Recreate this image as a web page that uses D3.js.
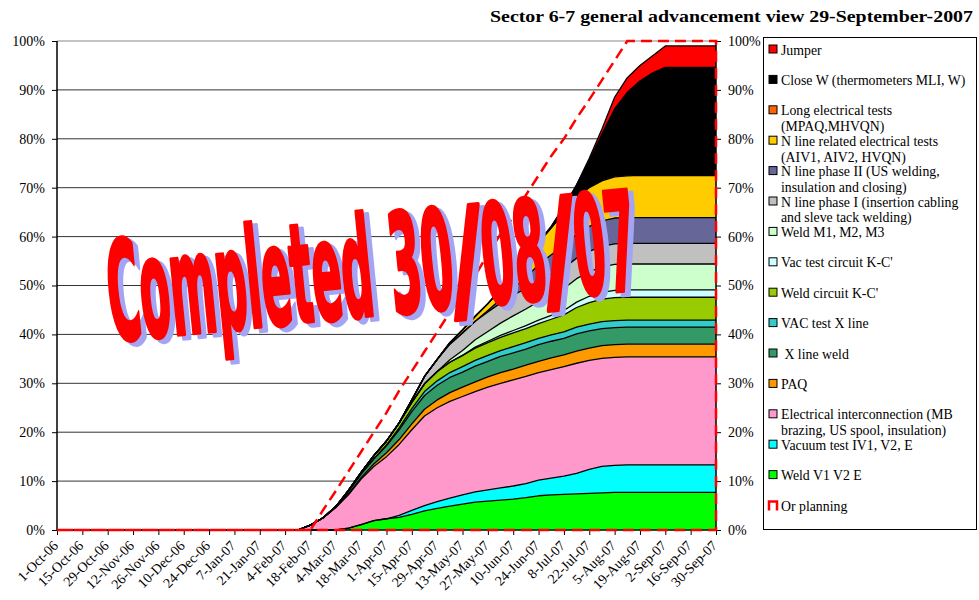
<!DOCTYPE html>
<meta charset="utf-8">
<script src="https://d3js.org/d3.v7.min.js"></script>
<style>
body { margin: 0; background: #fff; }
text { font-family: "Liberation Serif", "Times New Roman", serif; fill: #000; }
.axis text { font-size: 14px; }
.axis path, .axis line { stroke: #000; }
.legend text { font-size: 13.8px; }
</style>
<body>
<script>
// weekly progress points (percent of sector work done), first one is the chart start
var dates = ["2006-10-01",
  "2007-02-11","2007-02-18","2007-02-25","2007-03-04","2007-03-11","2007-03-18","2007-03-25",
  "2007-04-01","2007-04-08","2007-04-15","2007-04-22","2007-04-29","2007-05-06","2007-05-13",
  "2007-05-20","2007-05-27","2007-06-03","2007-06-10","2007-06-17","2007-06-24","2007-07-01",
  "2007-07-08","2007-07-15","2007-07-22","2007-07-29","2007-08-05","2007-08-12","2007-08-19",
  "2007-08-26","2007-09-02","2007-09-09","2007-09-16","2007-09-23","2007-09-30"];

var weldV1V2E = [0, 0,0,0,0, 0.4,1.1,1.9,2.3,2.6,3.2, 3.9,4.4,4.9,5.3,5.7,5.9, 6.1,6.3,6.6,7.0,7.2,7.3, 7.4,7.5,7.6, 7.7,7.7,7.7,7.7,7.7,7.7,7.7,7.7,7.7];
var vacuumTest = [0, 0,0,0,0,0,0,0,0, 0.4,0.8,1.1,1.4,1.6,1.9,2.1,2.3,2.5,2.7,2.9,3.2,3.4,3.7,4.2,4.9,5.4,5.5, 5.6,5.6,5.6,5.6,5.6,5.6,5.6,5.6];
var elecInterconnection = [0, 0,1.0,2.5,4.6,6.8,9.3,11.1,12.7,14.5,16.5,18.3,19.2,19.8,20.1,20.5,21.0,21.4,21.7,21.9,22.0,22.2,22.4,22.5,22.3,22.1,22.1, 22.1,22.1,22.1,22.1,22.1,22.1,22.1,22.1];
var paq = [0, 0,0,0,0, 0.2,0.3,0.5,0.8,1.0,1.2,1.4,1.6,1.8,1.9,2.0,2.1,2.2,2.2,2.3,2.3,2.4,2.4,2.5,2.5, 2.6,2.6,2.6,2.6,2.6,2.6,2.6,2.6,2.6,2.6];
var xLineWeld = [0, 0,0,0, 0.2,0.5,0.8,1.0,1.4,2.0,2.5,2.8,3.0,3.1,3.1,3.2,3.2,3.3,3.3,3.3,3.4,3.4,3.4, 3.5,3.5,3.5,3.5,3.5,3.5,3.5,3.5,3.5,3.5,3.5,3.5];
var vacTestX = [0, 0,0,0,0,0,0, 0.1,0.2,0.4,0.6,0.8,0.9,1.0,1.1,1.2,1.2,1.2,1.3,1.3,1.3,1.3,1.3, 1.4,1.4,1.4,1.4,1.4,1.4,1.4,1.4,1.4,1.4,1.4,1.4];
var weldKC = [0, 0,0,0,0, 0.2,0.3,0.6,0.8,1.0,1.3,1.6,1.9,2.1,2.3,2.5,2.6,2.7,2.8,2.9,3.0,3.2,3.5,4.0,4.4,4.6, 4.7,4.7,4.7,4.7,4.7,4.7,4.7,4.7,4.7];
var vacTestKC = [0, 0,0,0,0,0,0,0,0,0,0,0,0,0,0, 0.2,0.3,0.4,0.5,0.6,0.7,0.8,0.9,1.1,1.3,1.4, 1.5,1.5,1.5,1.5,1.5,1.5,1.5,1.5,1.5];
var weldM = [0, 0,0,0,0,0,0,0,0,0,0,0,0, 0.5,1.0,1.5,2.0,2.5,3.0,3.4,3.8,4.2,4.5,4.8,5.0,5.2, 5.3,5.3,5.3,5.3,5.3,5.3,5.3,5.3,5.3];
var nLinePhase1 = [0, 0,0,0,0,0,0,0,0,0, 0.5,1.5,2.5,3.2,3.6,3.8,4.0,4.1, 4.2,4.2,4.2,4.2,4.2,4.2,4.2,4.2,4.2,4.2,4.2,4.2,4.2,4.2,4.2,4.2,4.2];
var nLinePhase2 = [0, 0,0,0,0,0,0,0,0,0,0,0,0,0,0,0, 0.3,0.8,1.5,2.2,3.4,4.0,4.6,4.9,5.1,5.2, 5.3,5.3,5.3,5.3,5.3,5.3,5.3,5.3,5.3];
var nLineElec = [0, 0,0,0,0,0,0,0,0,0,0,0,0, 0.3,0.6,1.0,1.4,2.0,2.6,3.2,4.5,5.5,6.6,7.4,7.9,8.2,8.4,8.5, 8.6,8.6,8.6,8.6,8.6,8.6,8.6];
var longElec = [0, 0,0,0,0,0,0,0,0,0,0,0,0,0,0,0,0,0,0,0,0,0, 0.1, 0.2,0.2,0.2,0.2,0.2,0.2,0.2,0.2,0.2,0.2,0.2,0.2];
var closeW = [0, 0,0,0,0,0,0,0,0,0,0,0,0,0,0,0,0,0,0,0,0, 0.3,1.2,2.5,5.3,9.4,13.7,16.9,19.1,20.8,21.9, 21.9,21.9,21.9,21.9];
var jumper = [0, 0,0,0,0,0,0,0,0,0,0,0,0,0,0,0,0,0,0,0,0,0,0,0, 0.5,1.0,2.4,3.0,3.2,3.5,4.4, 4.4,4.4,4.4,4.4];
var planning = [0, 0,0, 4.1,8,12,16,20,24,28.5,32.5,36.5,40.5,44.5,48.2,52,56.5,60.5,64,68.5,72.5,76.5,80,84.2,88,92,96, 100,100,100,100,100,100,100,100];

// stack order bottom -> top
var seriesData = [weldV1V2E, vacuumTest, elecInterconnection, paq, xLineWeld, vacTestX, weldKC, vacTestKC,
  weldM, nLinePhase1, nLinePhase2, nLineElec, longElec, closeW, jumper];
var colors = ["#00ff00","#00ffff","#ff99cc","#ff9900","#339966","#33cccc","#99cc00","#ccffff",
  "#ccffcc","#c0c0c0","#666699","#ffcc00","#ff6600","#000000","#ff0000"];
// legend text split into lines as in the chart
var legendLines = [
  ["Weld V1 V2 E"], ["Vacuum test IV1, V2, E"], ["Electrical interconnection (MB", "brazing, US spool, insulation)"],
  ["PAQ"], ["\u00a0X line weld"], ["VAC test X line"], ["Weld circuit K-C'"], ["Vac test circuit K-C'"], ["Weld M1, M2, M3"],
  ["N line phase I (insertion cabling", "and sleve tack welding)"], ["N line phase II (US welding,", "insulation and closing)"],
  ["N line related electrical tests", "(AIV1, AIV2, HVQN)"], ["Long electrical tests", "(MPAQ,MHVQN)"],
  ["Close W (thermometers MLI, W)"], ["Jumper"]];

var width = 979, height = 600;
var plotLeft = 57, plotRight = 716, plotTop = 41, plotBottom = 530;

var svg = d3.select("body").append("svg")
    .attr("width", width)
    .attr("height", height);

var parse = d3.timeParse("%Y-%m-%d");
var rows = dates.map(function(d, i) {
    var r = {date: parse(d)};
    seriesData.forEach(function(s, j) { r["s" + j] = s[i]; });
    r.plan = planning[i];
    return r;
});
var keys = seriesData.map(function(s, j) { return "s" + j; });

var x = d3.scaleTime()
    .domain([parse("2006-10-01"), parse("2007-09-30")])
    .range([plotLeft, plotRight]);
var y = d3.scaleLinear().domain([0, 100]).range([plotBottom, plotTop]);

// title
svg.append("text")
    .text("Sector 6-7 general advancement view 29-September-2007")
    .attr("x", 973)
    .attr("y", 22)
    .attr("text-anchor", "end")
    .attr("textLength", 483)
    .attr("lengthAdjust", "spacingAndGlyphs")
    .style("font-size", "17px")
    .style("font-weight", "bold");

// gridlines
svg.append("g").selectAll("line")
    .data(d3.range(10, 101, 10))
    .enter().append("line")
    .attr("x1", plotLeft).attr("x2", plotRight)
    .attr("y1", function(d) { return y(d); })
    .attr("y2", function(d) { return y(d); })
    .style("stroke", function(d) { return d == 100 ? "#888" : "#333"; })
    .style("stroke-width", 1);

// stacked areas
var layers = d3.stack().keys(keys)(rows);
var area = d3.area()
    .x(function(d) { return x(d.data.date); })
    .y0(function(d) { return y(d[0]); })
    .y1(function(d) { return y(d[1]); });
var topLine = d3.line()
    .x(function(d) { return x(d.data.date); })
    .y(function(d) { return y(d[1]); });

svg.append("g").selectAll("path")
    .data(layers)
    .enter().append("path")
    .attr("d", area)
    .style("fill", function(d, i) { return colors[i]; });

svg.append("g").selectAll("path")
    .data(layers)
    .enter().append("path")
    .attr("d", topLine)
    .style("fill", "none")
    .style("stroke", "#000")
    .style("stroke-width", 1.3)
    .style("stroke-linejoin", "round");

// axes
var yTicks = d3.range(0, 101, 10);
svg.append("g")
    .attr("class", "axis")
    .attr("transform", "translate(" + plotLeft + ",0)")
    .call(d3.axisLeft(y).tickValues(yTicks).tickSize(5).tickPadding(7)
        .tickFormat(function(d) { return d + "%"; }))
    .call(function(g) { g.select(".domain").remove(); });
svg.append("g")
    .attr("class", "axis")
    .attr("transform", "translate(" + plotRight + ",0)")
    .call(d3.axisRight(y).tickValues(yTicks).tickSize(5).tickPadding(7)
        .tickFormat(function(d) { return d + "%"; }))
    .call(function(g) { g.select(".domain").remove(); });

var xTicks = d3.timeDay.range(parse("2006-10-01"), parse("2007-10-01"), 14);
svg.append("g")
    .attr("class", "axis")
    .attr("transform", "translate(0," + plotBottom + ")")
    .call(d3.axisBottom(x).tickValues(xTicks).tickSize(5)
        .tickFormat(d3.timeFormat("%-d-%b-%y")))
    .call(function(g) { g.select(".domain").remove(); })
    .selectAll("text")
    .attr("x", 0).attr("y", 0).attr("dy", "0.35em")
    .attr("transform", "translate(-2,13) rotate(-45)")
    .style("text-anchor", "end");

svg.append("line").attr("x1", plotLeft).attr("x2", plotLeft).attr("y1", plotTop).attr("y2", plotBottom)
    .style("stroke", "#000").style("stroke-width", 1.5);
svg.append("line").attr("x1", plotRight).attr("x2", plotRight).attr("y1", plotTop).attr("y2", plotBottom)
    .style("stroke", "#000").style("stroke-width", 1.5);
svg.append("line").attr("x1", plotLeft).attr("x2", plotRight).attr("y1", plotBottom).attr("y2", plotBottom)
    .style("stroke", "#000").style("stroke-width", 1.5);

// planning outline (dashed)
var planArea = d3.area()
    .x(function(d) { return x(d.date); })
    .y0(y(0))
    .y1(function(d) { return y(d.plan); });
svg.append("path")
    .attr("d", planArea(rows))
    .style("fill", "none")
    .style("stroke", "#ff0000")
    .style("stroke-width", 2.5)
    .style("stroke-dasharray", "11,6");

// big note, set piece by piece so the slashes keep their slant
var notePieces = [
    {t: "Completed", x: 0, w: 266},
    {t: "30", x: 283, w: 64},
    {t: "/", x: 344, w: 34},
    {t: "08", x: 376, w: 64},
    {t: "/", x: 437, w: 34},
    {t: "07", x: 469, w: 62}
];
var note = svg.append("g")
    .attr("transform", "translate(112,341) rotate(-5.6)");
[{dx: 5, dy: 4, c: "#a4a4f4", sw: 5}, {dx: 0, dy: 0, c: "#ff0000", sw: 4}].forEach(function(layer) {
    note.append("g").selectAll("text")
        .data(notePieces)
        .enter().append("text")
        .text(function(d) { return d.t; })
        .attr("x", function(d) { return d.x + layer.dx; })
        .attr("y", layer.dy)
        .attr("textLength", function(d) { return d.w; })
        .attr("lengthAdjust", "spacingAndGlyphs")
        .style("font-family", "'Liberation Sans Narrow', 'DejaVu Sans Condensed', sans-serif")
        .style("font-weight", "bold")
        .style("font-size", "138px")
        .style("fill", layer.c)
        .style("stroke", layer.c)
        .style("stroke-width", layer.sw)
        .style("stroke-linejoin", "round");
});

// legend
var legend = svg.append("g").attr("class", "legend");
legend.append("rect")
    .attr("x", 763.5).attr("y", 37.5)
    .attr("width", 213).attr("height", 492)
    .style("fill", "#fff")
    .style("stroke", "#000")
    .style("stroke-width", 1);

var order = d3.range(seriesData.length).reverse();
order.forEach(function(j, i) {
    var ly = 49.5 + i * 30.4;
    legend.append("rect")
        .attr("x", 769).attr("y", ly - 4.5)
        .attr("width", 8).attr("height", 8)
        .style("fill", colors[j])
        .style("stroke", "#000");
    var t = legend.append("text")
        .attr("x", 781).attr("y", ly + 5);
    legendLines[j].forEach(function(line, k) {
        t.append("tspan").attr("x", 781).attr("dy", k ? 15.8 : 0).text(line);
    });
});
var py = 49.5 + seriesData.length * 30.4;
legend.append("path")
    .attr("d", "M769," + (py + 5) + "V" + (py - 4) + "H777V" + (py + 5))
    .style("fill", "none")
    .style("stroke", "#ff0000")
    .style("stroke-width", 2.5);
legend.append("text").attr("x", 781).attr("y", py + 5).text("Or planning");
</script>
</body>
</html>
